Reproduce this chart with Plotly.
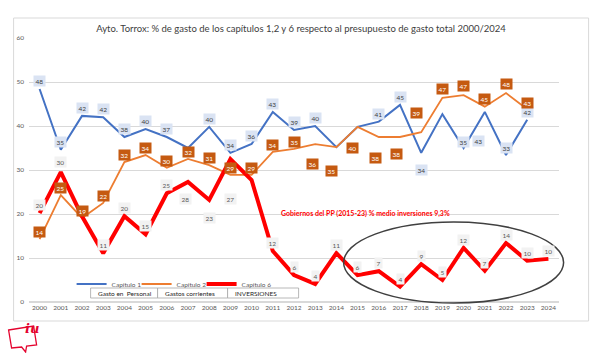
import plotly.graph_objects as go

# ---- data ----
years = [2000, 2001, 2002, 2003, 2004, 2005, 2006, 2007, 2008, 2009, 2010, 2011, 2012,
         2013, 2014, 2015, 2016, 2017, 2018, 2019, 2020, 2021, 2022, 2023, 2024]
cap1 = [48.4, 34.6, 42.3, 42.0, 37.5, 39.3, 37.5, 35.0, 39.8, 33.9, 35.9, 43.2, 39.1,
        40.0, 35.2, 39.8, 41.0, 44.8, 33.9, 42.7, 35.0, 43.2, 33.4, 41.4, None]
cap2 = [14.3, 24.3, 19.1, 22.5, 31.8, 33.4, 30.5, 32.5, 31.1, 28.9, 28.9, 34.1, 34.8,
        35.9, 35.2, 39.8, 37.5, 37.5, 38.6, 46.4, 47.0, 44.4, 47.5, 43.8, None]
cap6 = [20.2, 29.5, 19.5, 11.1, 19.5, 15.4, 24.7, 27.3, 23.2, 32.5, 27.7, 11.6, 6.1,
        4.1, 11.1, 6.1, 7.0, 3.5, 8.6, 5.0, 12.3, 7.1, 13.4, 9.4, 9.8]
lab1 = ["48", "35", "42", "42", "38", "40", "37", None, "40", "34", "36", "43", "39",
        "40", None, None, "41", "45", "34", None, "35", "43", "33", "42", None]
lab2 = ["14", "25", "19", "22", "32", "34", "30", "32", "31", "29", "29", "34", "35",
        "36", "35", "40", "38", "38", "39", "47", "47", "45", "48", "43", None]
lab6 = ["20", "30", None, "11", "20", "15", "25", "28", "23", "27", None, "12", "6",
        "4", "11", "6", "7", "4", "9", "5", "12", "7", "14", "10", "10"]
series_names = ["Capítulo 1", "Capítulo 2", "Capítulo 6"]
box_labels = ["Gasto en  Personal", "Gastos corrientes", "INVERSIONES"]
title_text = "Ayto. Torrox: % de gasto de los capítulos 1,2 y 6 respecto al presupuesto de gasto total 2000/2024"
note_text = "Gobiernos del PP (2015-23) % medio inversiones 9,3%"

# ---- styles ----
FONT = "Lato"
colors = ["#4472c4", "#ed7d31", "#ff0000"]
widths = [2, 1.8, 4]
legend_widths = [20, 20, 40]
# label offsets (xshift, yshift) in px, per year where different from default
off1 = {2018: (0, -17), 2021: (-6, -29), 2020: (0, 6), 2022: (0, 7)}
off2 = {2013: (-3, -20), 2014: (-5, -24), 2015: (-5, -21), 2016: (-3, -21),
        2017: (-4, -17), 2018: (-5, 19), 2019: (0, 9), 2020: (0, 9), 2021: (0, 8),
        2022: (0, 9), 2023: (0, 6)}
off6 = {2001: (0, 10), 2007: (-3, -17), 2008: (0, -18), 2009: (0, -40)}

fig = go.Figure()
for name, vals, c, w, lw in zip(series_names, [cap1, cap2, cap6], colors, widths, legend_widths):
    fig.add_trace(go.Scatter(x=years, y=vals, name=name, mode="lines",
                             line=dict(color=c, width=w), hoverinfo="skip", legendwidth=lw))

annotations = []
label_styles = [
    (cap1, lab1, off1, 8, "#dae3f3", "#404040"),
    (cap6, lab6, off6, 8, "#f2f2f2", "#595959"),
    (cap2, lab2, off2, 7, "#c55a11", "#ffffff"),
]
for vals, labs, offs, dy, bg, fc in label_styles:
    for yr, v, t in zip(years, vals, labs):
        if t is None or v is None:
            continue
        xs, ys = offs.get(yr, (0, dy))
        annotations.append(dict(x=yr, y=v, xref="x", yref="y", text=t, showarrow=False,
                                xshift=xs, yshift=ys, bgcolor=bg, borderpad=1.5,
                                font=dict(family=FONT, size=6.5, color=fc)))

# helpers to convert pixel positions into paper coords
L, R, T, B = 29.4, 559.4, 38, 302
def px(x):
    return (x - L) / (R - L)
def py(y):
    return (B - y) / (B - T)

shapes = []
# chart border
shapes.append(dict(type="rect", xref="paper", yref="paper", x0=px(14), x1=px(589),
                   y0=py(321), y1=py(18), line=dict(color="#d9d9d9", width=1), layer="below"))
# ellipse
shapes.append(dict(type="circle", xref="paper", yref="paper", x0=px(344), x1=px(564),
                   y0=py(303), y1=py(222), line=dict(color="#404040", width=1.5)))
# table boxes
box_edges = [91, 158, 228, 299]
for i, lab in enumerate(box_labels):
    shapes.append(dict(type="rect", xref="paper", yref="paper", x0=px(box_edges[i]),
                       x1=px(box_edges[i + 1]), y0=py(298), y1=py(288),
                       line=dict(color="#a6a6a6", width=0.8), fillcolor="white"))
    annotations.append(dict(x=px(box_edges[i] + 5), y=py(293), xref="paper", yref="paper",
                            text=lab, showarrow=False, xanchor="left", yanchor="middle",
                            font=dict(family=FONT, size=6.5, color="#262626")))
# note
annotations.append(dict(x=px(452), y=py(213), xref="paper", yref="paper", text="<b>" + note_text + "</b>",
                        showarrow=False, font=dict(family=FONT, size=7, color="#ff0000")))
# logo
shapes.append(dict(type="path", xref="paper", yref="paper",
                   path=f"M {px(9)},{py(330)} L {px(34)},{py(326)} L {px(37)},{py(345)} "
                        f"L {px(27)},{py(346)} L {px(26)},{py(352)} L {px(22)},{py(347)} "
                        f"L {px(12)},{py(348)} Z",
                   line=dict(color="#e4032e", width=1.3), fillcolor="white"))
annotations.append(dict(x=px(23), y=py(338), xref="paper", yref="paper",
                        text="<b><i>iu</i></b>", showarrow=False,
                        font=dict(family="DejaVu Serif", size=13, color="#e4032e")))

fig.update_layout(
    width=600, height=353,
    margin=dict(l=L, r=600 - R, t=T, b=353 - B),
    paper_bgcolor="white", plot_bgcolor="white",
    title=dict(text=title_text, x=301 / 600, y=1 - 29 / 353, xref="container", yref="container",
               xanchor="center", yanchor="middle",
               font=dict(family=FONT, size=9.5, color="#404040")),
    xaxis=dict(range=[1999.5, 2024.5], tickvals=years, ticktext=[str(y) for y in years],
               showgrid=False, zeroline=False, showline=False, ticks="",
               tickfont=dict(family=FONT, size=6.5, color="#595959")),
    yaxis=dict(range=[0, 60], dtick=10, showgrid=True, gridcolor="#d9d9d9", gridwidth=1,
               zeroline=True, zerolinecolor="#d9d9d9", showline=False, ticks="",
               tickfont=dict(family=FONT, size=6.5, color="#595959"), ticklabelstandoff=4),
    legend=dict(orientation="h", x=px(72), y=py(284), xanchor="left", yanchor="middle",
                font=dict(family=FONT, size=6.5, color="#595959"), bgcolor="rgba(0,0,0,0)",
                entrywidthmode="pixels", tracegroupgap=0, itemwidth=30),
    shapes=shapes, annotations=annotations, showlegend=True,
)

fig.write_html("out.html")
